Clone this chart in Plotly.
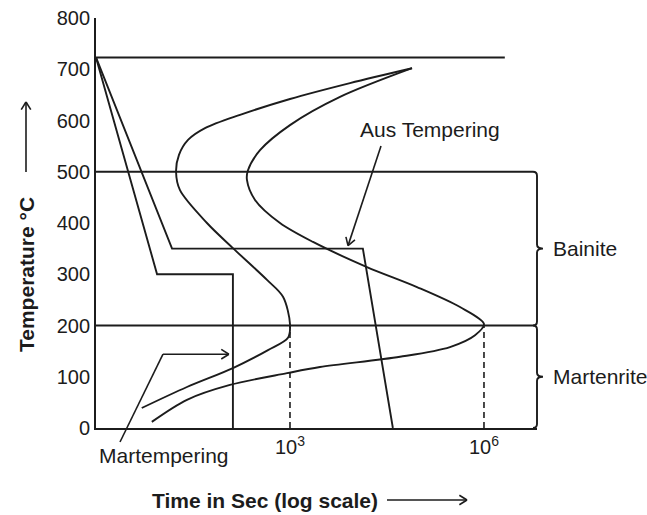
import math
import plotly.graph_objects as go

# ---- figure geometry -------------------------------------------------------
W, H = 647, 515
ML, MR, MT, MB = 96, 110, 18, 87
PW, PH = W - ML - MR, H - MT - MB
X_LOG_RANGE = [0, 6.82]          # log10(seconds)
T_RANGE = [0, 800]               # degrees C

INK = "#1c1c1c"
FONT = "Liberation Sans, Arial, sans-serif"

# ---- data ------------------------------------------------------------------
temp_ticks = list(range(0, 801, 100))
time_ticks = [1e3, 1e6]
time_tick_text = ["10<sup>3</sup>", "10<sup>6</sup>"]

a1_temp = 723                    # eutectoid line
a1_line_time = [1, 2.1e6]
bainite_top = 500
ms_temp = 200

# martempering: quench, hold above Ms, then cool
mart_time = [1, 8.8, 131, 131]
mart_temp = [723, 300, 300, 0]

# austempering: quench, hold in bainite range until transformation ends
aus_time = [1, 15, 13400, 39000]
aus_temp = [723, 350, 350, 0]

# transformation start curve (lower tail -> 200 nose -> 500 nose -> upper tip)
start_time = [5.1, 25.5, 131, 457, 931, 1000, 780, 441, 131, 52, 19.9,
              17.3, 19.2, 26.5, 48.5, 169, 1000, 8470, 77100]
start_temp = [39, 80, 117, 152, 176, 203, 256, 289, 351, 400, 464,
              500, 533, 562, 585, 611, 642, 673, 702]

# transformation finish curve
finish_time = [7.3, 25.5, 118, 899, 2910, 50300, 298000, 727000, 1e6,
               426000, 92100, 15500, 2270, 701, 288, 216, 224,
               344, 1000, 5940, 77100]
finish_temp = [12, 55, 84, 107, 119, 139, 158, 181, 203,
               236, 275, 314, 363, 400, 445, 484, 503,
               542, 591, 646, 702]

# ---- helpers ---------------------------------------------------------------
def px_x(t):
    return ML + (math.log10(t) - X_LOG_RANGE[0]) / (X_LOG_RANGE[1] - X_LOG_RANGE[0]) * PW


def px_y(temp):
    return MT + (T_RANGE[1] - temp) / (T_RANGE[1] - T_RANGE[0]) * PH


def paper(x, y):
    return (x - ML) / PW, (MT + PH - y) / PH


def seg(x0, y0, x1, y1, width=1.7, dash=None):
    a, b = paper(x0, y0)
    c, d = paper(x1, y1)
    line = dict(color=INK, width=width)
    if dash:
        line["dash"] = dash
    return dict(type="line", xref="paper", yref="paper", x0=a, y0=b, x1=c, y1=d, line=line)


def arrow(x0, y0, x1, y1, head=9, ang=32, width=1.6):
    shapes = [seg(x0, y0, x1, y1, width)]
    th = math.atan2(y1 - y0, x1 - x0)
    for s in (1, -1):
        a = th + math.pi + s * math.radians(ang)
        shapes.append(seg(x1, y1, x1 + head * math.cos(a), y1 + head * math.sin(a), width))
    return shapes


def polyline(points, width=1.6):
    shapes = []
    for (x0, y0), (x1, y1) in zip(points[:-1], points[1:]):
        shapes.append(seg(x0, y0, x1, y1, width))
    return shapes


# ---- traces ----------------------------------------------------------------
fig = go.Figure()
line = dict(color=INK, width=1.9)
curve = dict(color=INK, width=1.9, shape="spline", smoothing=0.9)

fig.add_trace(go.Scatter(x=a1_line_time, y=[a1_temp, a1_temp], mode="lines", line=line))
fig.add_trace(go.Scatter(x=mart_time, y=mart_temp, mode="lines", line=line))
fig.add_trace(go.Scatter(x=aus_time, y=aus_temp, mode="lines", line=line))
fig.add_trace(go.Scatter(x=start_time, y=start_temp, mode="lines", line=curve))
fig.add_trace(go.Scatter(x=finish_time, y=finish_temp, mode="lines", line=curve))
for t in time_ticks:
    fig.add_trace(go.Scatter(x=[t, t], y=[0, ms_temp], mode="lines",
                             line=dict(color=INK, width=1.6, dash="6px,4px")))

# ---- range lines and braces (x in paper units, y in degrees) ---------------
rx = 4 / PW
ry = 4 / PH * (T_RANGE[1] - T_RANGE[0])
dx = 6 / PW


def brace_path(top, bottom, tip, open_top, open_bottom):
    if open_top:
        p = f"M 0,{top} L {1 - rx},{top} Q 1,{top} 1,{top - ry} "
    else:
        p = f"M {1 - rx},{top} Q 1,{top} 1,{top - ry} "
    p += f"L 1,{tip + ry} Q 1,{tip} {1 + dx},{tip} Q 1,{tip} 1,{tip - ry} "
    p += f"L 1,{bottom + ry} Q 1,{bottom} {1 - rx},{bottom}"
    if open_bottom:
        p += " L 0,{}".format(bottom)
    return p


shapes = [
    dict(type="path", xref="paper", yref="y", line=dict(color=INK, width=1.9),
         path=brace_path(bainite_top, ms_temp, 350, True, True)),
    dict(type="path", xref="paper", yref="y", line=dict(color=INK, width=1.9),
         path=brace_path(ms_temp, 0, 100, False, False)),
]

# axis-title arrows
shapes += arrow(26, 172, 26, 102)
shapes += arrow(387, 500, 467, 500)

# Martempering pointer
tip_x = px_x(mart_time[2]) - 4
tip_y = px_y(144)
shapes += polyline([(120, 442), (163, tip_y), (tip_x, tip_y)])
shapes += arrow(tip_x - 10, tip_y, tip_x, tip_y)[1:]

# Aus Tempering pointer
shapes += arrow(381, 146, px_x(7900), px_y(aus_temp[1]) - 3)

txt = dict(size=21, color=INK, family=FONT)
annotations = [
    dict(text="<b>Temperature °C</b>", xref="paper", yref="paper",
         x=paper(26, 0)[0], y=paper(0, 275)[1], textangle=-90, showarrow=False,
         xanchor="center", yanchor="middle", font=dict(size=21, color=INK, family=FONT)),
    dict(text="<b>Time in Sec (log scale)</b>", xref="paper", yref="paper",
         x=paper(150, 0)[0], y=paper(0, 500)[1], xanchor="left", yanchor="middle",
         showarrow=False, font=txt),
    dict(text="Martempering", xref="paper", yref="paper",
         x=paper(97, 0)[0], y=paper(0, 455)[1], xanchor="left", yanchor="middle",
         showarrow=False, font=txt),
    dict(text="Aus Tempering", xref="paper", yref="paper",
         x=paper(358, 0)[0], y=paper(0, 129)[1], xanchor="left", yanchor="middle",
         showarrow=False, font=txt),
    dict(text="Bainite", xref="paper", yref="y", x=paper(551, 0)[0], y=350,
         xanchor="left", yanchor="middle", showarrow=False, font=txt),
    dict(text="Martenrite", xref="paper", yref="y", x=paper(551, 0)[0], y=100,
         xanchor="left", yanchor="middle", showarrow=False, font=txt),
]

fig.update_layout(
    width=W, height=H,
    margin=dict(l=ML, r=MR, t=MT, b=MB),
    paper_bgcolor="white", plot_bgcolor="white",
    showlegend=False,
    shapes=shapes,
    annotations=annotations,
    xaxis=dict(type="log", range=X_LOG_RANGE, tickvals=time_ticks, ticktext=time_tick_text,
               showgrid=False, zeroline=False, showline=True, linecolor=INK, linewidth=1.9,
               ticks="", automargin=False,
               tickfont=dict(size=20, color=INK, family=FONT)),
    yaxis=dict(range=T_RANGE, tickvals=temp_ticks, showgrid=False, zeroline=False,
               showline=True, linecolor=INK, linewidth=1.9, ticks="", automargin=False,
               tickfont=dict(size=20, color=INK, family=FONT)),
)

fig.write_html("out.html")
